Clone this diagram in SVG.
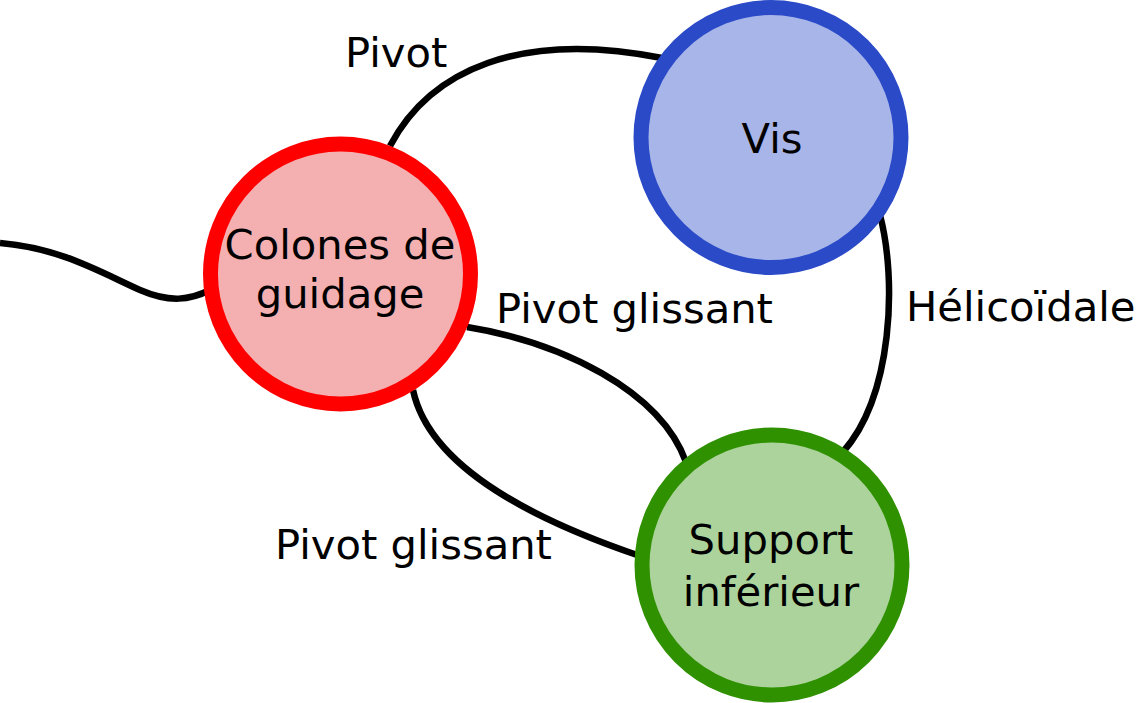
<svg xmlns="http://www.w3.org/2000/svg" width="1136" height="703" viewBox="0 0 1136 703">
<style>
.edge{fill:none;stroke:#000;stroke-width:6.5}
.node{stroke-width:15}
text{font-family:"DejaVu Sans",sans-serif;font-size:41.7px;fill:#000}
.c{text-anchor:middle}
</style>
<rect width="1136" height="703" fill="#fff"/>
<g id="connectors">
<path class="edge" d="M0,243 C60,248 100,272 140,290 C170,303 190,300 210,290"/>
<path class="edge" d="M390,146 C430,70 520,30 662,58"/>
<path class="edge" d="M467,327 C560,342 660,390 686,462"/>
<path class="edge" d="M413,390 C430,470 540,522 640,556"/>
<path class="edge" d="M880,215 C897,280 893,395 843,452"/>
</g>
<g id="labels">
<text x="345" y="67">Pivot</text>
<text x="496" y="323">Pivot glissant</text>
<text x="275" y="559">Pivot glissant</text>
<text x="906" y="321">Hélicoïdale</text>
</g>
<g id="colones">
<circle class="node" cx="340.5" cy="274" r="130" fill="#f4afb1" stroke="#ff0000"/>
<text class="c" x="340" y="259">Colones de</text>
<text class="c" x="340" y="308">guidage</text>
</g>
<g id="vis">
<circle class="node" cx="771" cy="137.5" r="130" fill="#a8b5e8" stroke="#2a4ac8"/>
<text class="c" x="772" y="153">Vis</text>
</g>
<g id="support">
<circle class="node" cx="772" cy="565" r="130" fill="#acd39b" stroke="#2f9100"/>
<text class="c" x="771" y="554">Support</text>
<text class="c" x="771" y="606">inférieur</text>
</g>
</svg>
